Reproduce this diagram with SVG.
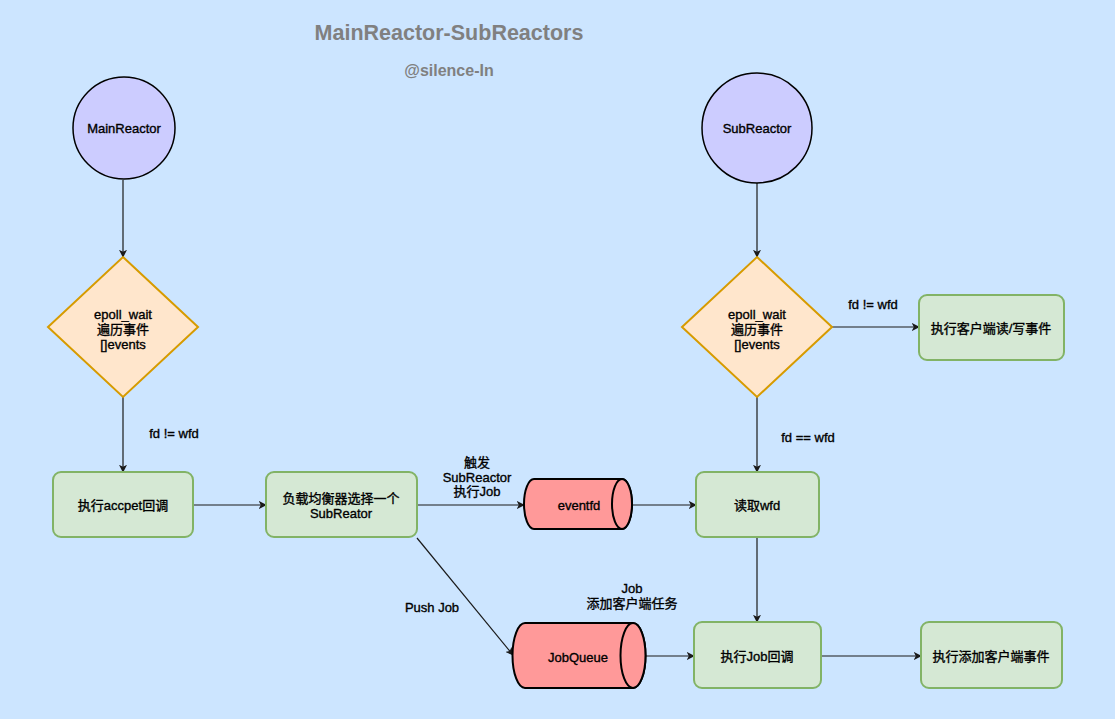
<svg xmlns="http://www.w3.org/2000/svg" width="1115" height="719" viewBox="0 0 1115 719">
<defs>
<style>
.t{font-family:"Liberation Sans","Noto Sans CJK SC",sans-serif;font-size:13px;fill:#000;stroke:#000;stroke-width:0.35;text-anchor:middle;dominant-baseline:central}
.box{fill:#d5e8d4;stroke:#82b366;stroke-width:2}
.circ{fill:#ccccff;stroke:#000;stroke-width:1.5}
.dia{fill:#ffe6cc;stroke:#d79b00;stroke-width:2}
.cyl{fill:#ff9999;stroke:#000;stroke-width:2}
.e{fill:none;stroke:#1a1a1a;stroke-width:1.2;marker-end:url(#ah)}
.title{font-family:"Liberation Sans",sans-serif;font-weight:bold;fill:#808080;text-anchor:middle}
</style>
<marker id="ah" viewBox="0 0 10 10" refX="9" refY="5" markerWidth="8" markerHeight="8" markerUnits="userSpaceOnUse" orient="auto">
<path d="M0,0 L10,5 L0,10 L2.5,5 Z" fill="#1a1a1a"/>
</marker>
</defs>
<rect width="1115" height="719" fill="#cce5ff"/>
<text class="title" x="449" y="40" font-size="21.5">MainReactor-SubReactors</text>
<text class="title" x="449" y="76" font-size="16">@silence-In</text>

<g id="connectors">
<path class="e" d="M123,180 L123,257"/>
<path class="e" d="M123,397 L123,472"/>
<text class="t" x="174" y="433">fd != wfd</text>
<path class="e" d="M193,505 L266,505"/>
<path class="e" d="M417,505 L524,505"/>
<text class="t" x="477" y="462">触发</text>
<text class="t" x="477" y="477">SubReactor</text>
<text class="t" x="477" y="491">执行Job</text>
<path class="e" d="M632,505 L696,505"/>
<path class="e" d="M757,183 L757,257"/>
<path class="e" d="M832,327 L919,327"/>
<text class="t" x="873" y="304">fd != wfd</text>
<path class="e" d="M757,397 L757,472"/>
<text class="t" x="808" y="437">fd == wfd</text>
<path class="e" d="M757,537 L757,622"/>
<path class="e" d="M417,538 L513,655"/>
<text class="t" x="432" y="607">Push Job</text>
<path class="e" d="M645,656 L694,656"/>
<text class="t" x="632" y="588">Job</text>
<text class="t" x="632" y="603">添加客户端任务</text>
<path class="e" d="M821,656 L921,656"/>
</g>

<g id="mainreactor">
<circle class="circ" cx="124" cy="128" r="51"/>
<text class="t" x="124" y="128">MainReactor</text>
</g>
<g id="subreactor">
<circle class="circ" cx="757" cy="128" r="55"/>
<text class="t" x="757" y="128">SubReactor</text>
</g>
<g id="epoll-main">
<polygon class="dia" points="123,257 198,327 123,397 48,327"/>
<text class="t" x="123" y="314">epoll_wait</text>
<text class="t" x="123" y="329">遍历事件</text>
<text class="t" x="123" y="344">[]events</text>
</g>
<g id="epoll-sub">
<polygon class="dia" points="757,257 832,327 757,397 682,327"/>
<text class="t" x="757" y="314">epoll_wait</text>
<text class="t" x="757" y="329">遍历事件</text>
<text class="t" x="757" y="344">[]events</text>
</g>
<g id="accept">
<rect class="box" x="53" y="472" width="140" height="65" rx="8"/>
<text class="t" x="123" y="505">执行accpet回调</text>
</g>
<g id="balancer">
<rect class="box" x="266" y="472" width="151" height="65" rx="8"/>
<text class="t" x="341" y="498">负载均衡器选择一个</text>
<text class="t" x="341" y="513">SubReator</text>
</g>
<g id="eventfd">
<path class="cyl" d="M534,479 L622,479 A10,25 0 0 1 622,529 L534,529 A10,25 0 0 1 534,479 Z"/>
<ellipse class="cyl" cx="622" cy="504" rx="10" ry="25"/>
<text class="t" x="579" y="505">eventfd</text>
</g>
<g id="readwfd">
<rect class="box" x="696" y="472" width="123" height="65" rx="8"/>
<text class="t" x="757" y="505">读取wfd</text>
</g>
<g id="clientrw">
<rect class="box" x="919" y="295" width="145" height="65" rx="8"/>
<text class="t" x="991" y="328">执行客户端读/写事件</text>
</g>
<g id="jobqueue">
<path class="cyl" d="M525,623 L633,623 A12.5,32.5 0 0 1 633,688 L525,688 A12.5,32.5 0 0 1 525,623 Z"/>
<ellipse class="cyl" cx="633" cy="655.5" rx="12.5" ry="32.5"/>
<text class="t" x="578" y="657">JobQueue</text>
</g>
<g id="jobcallback">
<rect class="box" x="694" y="622" width="127" height="66" rx="8"/>
<text class="t" x="757" y="656">执行Job回调</text>
</g>
<g id="addclient">
<rect class="box" x="921" y="622" width="141" height="66" rx="8"/>
<text class="t" x="991" y="656">执行添加客户端事件</text>
</g>
</svg>
